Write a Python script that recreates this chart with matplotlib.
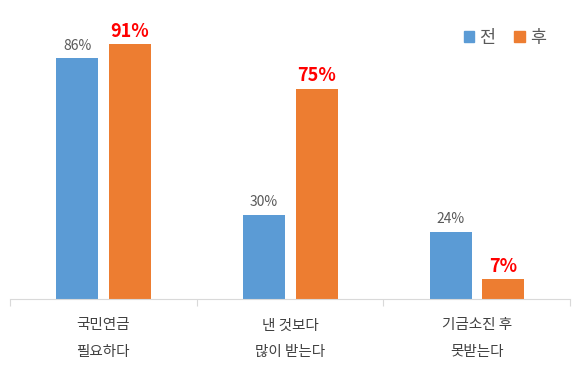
import numpy as np
import matplotlib.pyplot as plt
from matplotlib.patches import Patch

plt.rcParams['font.family'] = ['Noto Sans CJK KR', 'DejaVu Sans']

#%% data
categories = ['국민연금\n필요하다', '낸 것보다\n많이 받는다', '기금소진 후\n못받는다']
before = [86, 30, 24]
after = [91, 75, 7]
series_names = ['전', '후']

blue = '#5B9BD5'
orange = '#ED7D31'

#%% plot
fig = plt.figure(figsize=(5.8, 3.7), dpi=100)
ax = fig.add_axes([0.0172, 0.1919, 0.9656, 0.7567])

x = np.arange(len(categories))
w = 0.225
b1 = ax.bar(x - 0.14, before, w, color=blue)
b2 = ax.bar(x + 0.142, after, w, color=orange)

for r, v in zip(b1, before):
    ax.text(r.get_x() + r.get_width() / 2, v + 2, f'{v}%', ha='center', va='bottom',
            fontsize=10, color='#595959')
for r, v in zip(b2, after):
    ax.text(r.get_x() + r.get_width() / 2, v + 1.3, f'{v}%', ha='center', va='bottom',
            fontsize=13, color='#FF0000', fontweight='bold')

ax.set_xlim(-0.5, 2.5)
ax.set_ylim(0, 100)
ax.set_yticks([])
ax.set_xticks([-0.5, 0.5, 1.5, 2.5])
ax.set_xticklabels([])
ax.set_xticks(x, minor=True)
ax.set_xticklabels(categories, minor=True, fontsize=10.5, color='#404040', linespacing=2.1)
ax.tick_params(axis='x', which='major', length=5, color='#d9d9d9')
ax.tick_params(axis='x', which='minor', length=0, pad=14)
for s in ['top', 'right', 'left']:
    ax.spines[s].set_visible(False)
ax.spines['bottom'].set_color('#d9d9d9')

handles = [Patch(color=blue), Patch(color=orange)]
ax.legend(handles, series_names, loc='upper right', bbox_to_anchor=(0.985, 1.02), ncol=2,
          frameon=False, fontsize=12.5, handlelength=0.6, handleheight=0.6,
          handletextpad=0.3, columnspacing=1.1, labelcolor='#595959')

fig.savefig('out.png', dpi=100)
